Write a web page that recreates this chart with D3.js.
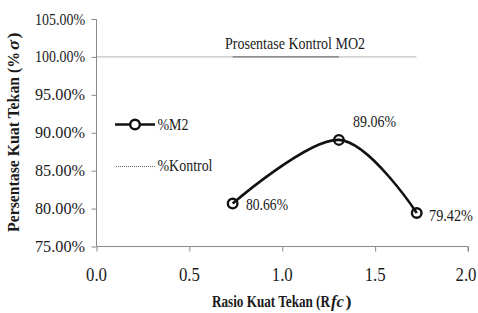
<!DOCTYPE html>
<html><head><meta charset="utf-8">
<script src="https://cdn.jsdelivr.net/npm/d3@7"></script>
<style>body{margin:0;background:#fff}svg{display:block}</style>
</head><body>
<svg id="c" width="478" height="313" font-family="Liberation Serif, Times New Roman, serif"></svg>
<script>
const ratioX = [0.733, 1.305, 1.724];
const pctM2 = [80.66, 89.06, 79.42];
const pctLabels = ["80.66%", "89.06%", "79.42%"];
const controlX = [0, 0.733, 1.305, 1.724];
const controlY = [100, 100, 100, 100];
const xTicks = [0.0, 0.5, 1.0, 1.5, 2.0];
const yTicks = [75, 80, 85, 90, 95, 100, 105];

const FONT = "Liberation Serif";
const svg = d3.select("#c");
const x = d3.scaleLinear().domain([0, 2]).range([96.5, 468]);
const y = d3.scaleLinear().domain([75, 105]).range([246.5, 19]);

function txt(g, s, px, py, size, len, opts = {}) {
  const t = g.append("text").attr("x", px).attr("y", py)
    .attr("font-family", FONT).attr("fill", "#1a1a1a")
    .attr("font-size", size).attr("text-anchor", opts.anchor || "start");
  if (len) t.attr("textLength", len).attr("lengthAdjust", "spacingAndGlyphs");
  if (opts.bold) t.attr("font-weight", "bold");
  if (opts.italic) t.attr("font-style", "italic");
  if (opts.transform) t.attr("transform", opts.transform);
  t.text(s);
  return t;
}

// axes
const yAxis = d3.axisLeft(y).tickValues(yTicks).tickSize(5).tickFormat(d => d.toFixed(2) + "%");
const gy = svg.append("g").attr("transform", "translate(96.5,0)").call(yAxis);
gy.select(".domain").attr("stroke", "#8a8a8a").attr("d", "M-5,19.5H0V246.5");
gy.selectAll(".tick line").attr("stroke", "#8a8a8a");
gy.selectAll(".tick text").remove();
yTicks.forEach(v => txt(svg, v.toFixed(2) + "%", 85, y(v) + 5.5, 16, 50, {anchor: "end"}));

const xAxis = d3.axisBottom(x).tickValues(xTicks).tickSize(5);
const gx = svg.append("g").attr("transform", "translate(0,246.5)").call(xAxis);
gx.select(".domain").attr("stroke", "#8a8a8a").attr("d", "M96.5,0H468V5");
gx.selectAll(".tick line").attr("stroke", "#8a8a8a");
gx.selectAll(".tick text").remove();
xTicks.forEach(v => txt(svg, v.toFixed(1), Math.min(x(v), 466), 281, 18, 21, {anchor: "middle"}));

// control line
const ctl = controlX.map((d, i) => [x(d), y(controlY[i])]);
svg.append("path").attr("d", d3.line()(ctl)).attr("fill", "none")
  .attr("stroke", "#666").attr("stroke-width", 1).attr("stroke-dasharray", "1,1");
svg.append("path").attr("d", d3.line()(ctl.slice(1, 3))).attr("fill", "none")
  .attr("stroke", "#777").attr("stroke-width", 1.4);
txt(svg, "Prosentase Kontrol MO2", 295, 48.5, 16, 140, {anchor: "middle"});

// M2 series
const pts = ratioX.map((d, i) => [x(d), y(pctM2[i])]);
svg.append("path").attr("d", d3.line().curve(d3.curveCardinal.tension(0))(pts))
  .attr("fill", "none").attr("stroke", "#111").attr("stroke-width", 2.6);
svg.selectAll("circle.m").data(pts).enter().append("circle")
  .attr("cx", d => d[0]).attr("cy", d => d[1]).attr("r", 4.8)
  .attr("fill", "none").attr("stroke", "#111").attr("stroke-width", 2.4);
const labPos = [[246, 210, 42], [353, 127, 43], [429, 221, 44]];
pctLabels.forEach((s, i) => txt(svg, s, labPos[i][0], labPos[i][1], 16, labPos[i][2]));

// legend
svg.append("line").attr("x1", 115).attr("x2", 155).attr("y1", 124.5).attr("y2", 124.5)
  .attr("stroke", "#111").attr("stroke-width", 2.6);
svg.append("circle").attr("cx", 135).attr("cy", 124.5).attr("r", 4.8)
  .attr("fill", "#fff").attr("stroke", "#111").attr("stroke-width", 2.4);
txt(svg, "%M2", 157.5, 130, 16, 31);
svg.append("line").attr("x1", 116).attr("x2", 155).attr("y1", 166.5).attr("y2", 166.5)
  .attr("stroke", "#666").attr("stroke-width", 1).attr("stroke-dasharray", "1,1");
txt(svg, "%Kontrol", 157.5, 171, 16, 55);

// axis titles (pieces laid side by side)
txt(svg, "Rasio Kuat Tekan (R", 212, 306.5, 17, 118, {bold: true});
txt(svg, "fc", 331, 306.5, 17, 13, {bold: true, italic: true});
txt(svg, ")", 345.5, 306.5, 17, 6, {bold: true});
const yt = svg.append("g").attr("transform", "translate(19,232) rotate(-90)");
txt(yt, "Persentase Kuat Tekan  (%", 0, 0, 17, 180, {bold: true});
txt(yt, "σ", 182, 0, 17, 10, {bold: true, italic: true});
txt(yt, ")", 193.5, 0, 17, 6, {bold: true});
</script>
</body></html>
